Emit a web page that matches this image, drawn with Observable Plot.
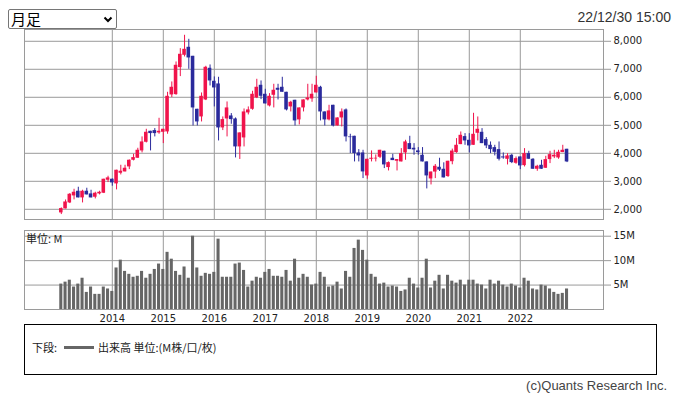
<!DOCTYPE html>
<html><head><meta charset="utf-8">
<script src="https://cdn.jsdelivr.net/npm/d3@7"></script>
<script src="https://cdn.jsdelivr.net/npm/@observablehq/plot@0.6"></script>
<style>
html,body{margin:0;padding:0;background:#fff;}
#wrap{position:relative;width:678px;height:396px;overflow:hidden;font-family:"Liberation Sans",Arial,sans-serif;}
.abs{position:absolute;white-space:nowrap;}
#top,#vol{position:absolute;left:0;}
#top{top:0;} #vol{top:225px;}
#sel{left:8px;top:9px;width:109px;height:20px;box-sizing:border-box;border:1px solid #767676;border-radius:2px;background:#fff;}
#sel span{position:absolute;left:2px;top:0px;font-family:"Noto Sans CJK JP",sans-serif;font-size:15px;line-height:17px;color:#000;}
#legend{left:24px;top:324px;width:633px;height:51px;box-sizing:border-box;border:1px solid #000;}
.jp{font-family:"Noto Sans CJK JP",sans-serif;font-size:11px;color:#222;line-height:14px;}
</style></head>
<body><div id="wrap">
<div id="top"></div>
<div id="vol"></div>
<div id="sel" class="abs"><span>月足</span>
<svg style="position:absolute;left:94px;top:6px" width="10" height="7"><path d="M1.5,1.5 L5,5 L8.5,1.5" fill="none" stroke="#000" stroke-width="2"/></svg></div>
<div class="abs" style="right:7px;top:9px;font-size:14px;color:#333;">22/12/30 15:00</div>
<div class="abs jp" style="left:26px;top:231px;">単位: M</div>
<div id="legend" class="abs"></div>
<div class="abs jp" style="left:32px;top:340px;">下段:</div>
<div class="abs" style="left:64px;top:346px;width:30px;height:3px;background:#666;"></div>
<div class="abs jp" style="left:98px;top:340px;">出来高 単位:(M株/口/枚)</div>
<div class="abs" style="right:11px;top:378px;font-size:13px;color:#444;">(c)Quants Research Inc.</div>
</div>
<script>
// Monthly candles Jan 2013 .. Dec 2022
const startYear = 2013;
const open  = [1871,2014,2228,2478,2645,2407,2645,2550,2431,2550,2574,3038,
 3074,2907,3288,3335,3514,3752,3823,4085,4394,4787,4811,4728,
 4751,4763,6084,6096,7060,7500,7786,7464,5572,5299,5905,7036,
 6572,6477,4906,5227,5334,5227,4228,4549,5442,5572,5977,6429,
 6108,5691,6072,6322,6358,6179,5656,5894,5192,5620,5906,5941,
 6155,6358,5477,5192,5715,4977,5263,5549,4584,4608,4013,4013,
 3192,3787,3799,3858,4073,3490,3823,3716,3692,4013,4346,4180,
 4085,3930,3692,3085,3330,3501,3430,3170,3700,4025,4310,4596,
 4465,4286,4715,4750,4489,4286,4203,4132,3870,3787,3929,3644,
 3870,3560,3989,3787,3430,3572,3465,3775,3870,3834,4025,4144];
const high  = [2050,2333,2562,2716,2788,2681,2752,2681,2610,2645,3074,3181,
 3086,3395,3573,3573,3764,3966,4180,4585,4858,4787,4882,5251,
 4858,6179,6548,7262,7738,8214,8071,7464,5572,6155,7107,7155,
 6727,6715,5299,5834,5418,5263,4728,5584,5656,6215,6643,6584,
 6286,6131,6465,6465,6715,6179,5858,5894,5620,5906,6465,6465,
 6750,6393,5477,5715,5715,5263,5584,5584,4680,4608,4132,4108,
 3787,4085,3942,4108,4073,3692,3966,3775,4168,4465,4608,4346,
 4204,4204,3692,3335,3600,3823,3660,3716,4150,4525,4762,4703,
 4703,5429,5298,4881,4560,4405,4286,4405,4013,3989,3965,3870,
 3870,4167,4072,3810,3572,3751,3894,4072,4108,4108,4286,4144];
const low   = [1812,2014,2205,2336,2407,2228,2514,2407,2371,2514,2562,2955,
 2824,2693,3228,3335,3418,3728,3823,4014,4370,4085,4585,4680,
 4347,4680,5989,6072,6739,7441,7000,4977,4977,5120,5882,6405,
 5656,4442,4811,4585,5037,3835,3780,4228,5370,5537,5953,5917,
 5763,5656,5620,5905,6179,5513,5477,4977,5013,5477,5870,5822,
 6155,5156,4977,5156,4942,4977,4942,4406,3990,3692,3692,3097,
 3073,3692,3692,3811,3454,3370,3740,3370,3692,3751,4132,3930,
 3930,3692,2728,2870,3097,3350,3121,3140,3590,4000,4310,4286,
 4013,4286,4441,4346,4167,3989,3906,3727,3787,3584,3632,3608,
 3417,3513,3787,3430,3358,3430,3465,3632,3810,3787,4025,3668];
const close = [2026,2262,2538,2609,2407,2645,2514,2407,2574,2609,3074,3122,
 2943,3395,3359,3466,3752,3847,4109,4406,4751,4704,4704,4787,
 4858,6036,6358,7143,7536,7714,7405,5620,5120,6036,7072,6584,
 6334,4906,5204,5620,5203,4228,4728,5477,5549,6108,6358,6036,
 5763,6036,6251,6251,6179,5549,5822,5156,5620,5906,5977,6108,
 6429,5477,5192,5513,4977,5263,5477,4585,4560,3990,3906,3335,
 3787,3823,3823,4108,3585,3668,3740,3775,3990,4406,4132,4120,
 4025,3692,3192,3330,3537,3400,3121,3716,4080,4287,4643,4441,
 4263,4679,4858,4346,4263,4132,4036,3787,3834,3906,3668,3810,
 3549,3989,3787,3430,3537,3430,3775,3953,3930,4036,4108,3692];
// Volume, millions of shares
const volume = [5.2,5.6,6.0,4.6,5.2,6.4,3.5,4.6,3.1,3.1,4.6,4.2,
 3.7,8.5,10.1,7.8,7.2,6.6,6.8,7.8,6.4,7.2,8.2,9.3,
 8.2,11.7,10.3,7.8,7.0,8.7,6.4,15.0,8.5,6.8,7.4,7.2,
 7.6,14.4,6.6,6.6,6.6,9.3,9.5,8.0,4.6,5.8,6.6,6.4,
 7.6,8.2,6.8,6.8,6.6,8.0,5.8,10.3,6.4,7.2,6.6,5.0,
 5.2,7.6,6.6,4.6,4.8,5.6,4.2,7.8,6.6,12.5,14.2,12.1,
 10.1,7.2,6.6,5.2,5.4,4.6,4.8,4.6,3.7,4.0,6.4,5.2,
 4.4,6.4,10.3,4.4,5.8,7.0,4.2,7.0,5.8,5.4,6.0,5.0,
 6.0,6.0,5.2,5.0,4.2,6.0,5.2,5.8,5.0,4.6,5.2,4.8,
 4.4,6.4,5.8,4.2,4.0,5.0,4.8,4.2,3.5,3.1,3.3,4.2];
const yearLabels = ["2014","2015","2016","2017","2018","2019","2020","2021","2022"];
const priceTicks = [2000,3000,4000,5000,6000,7000,8000];
const volTicks = [5,10,15];

const UP = "#f0134b", DOWN = "#2a2a9c", GRID = "#9a9a9a", VOLC = "#666666";
const data = open.map((o, i) => ({i, o, h: high[i], l: low[i], c: close[i], v: volume[i]}));
const ups = data.filter(d => d.c >= d.o), downs = data.filter(d => d.c < d.o);
const yearIdx = yearLabels.map(y => (+y - startYear) * 12);
const xDomain = [-8.66, 127.58];
const style = {fontFamily: "DejaVu Sans", fontSize: "10px", color: "#222", background: "transparent"};
const hw = 0.42;

const topPlot = Plot.plot({
  width: 678, height: 222,
  marginLeft: 24, marginRight: 75, marginTop: 29, marginBottom: 3,
  x: {type: "linear", domain: xDomain, axis: null},
  y: {domain: [1636, 8421], axis: null},
  style,
  marks: [
    Plot.gridX(yearIdx, {stroke: GRID, strokeOpacity: 1}),
    Plot.gridY(priceTicks, {stroke: GRID, strokeOpacity: 1}),
    Plot.axisY(priceTicks, {anchor: "right", label: null, tickSize: 7, tickPadding: 3, tickFormat: d3.format(","), stroke: GRID, fill: "#222"}),
    Plot.frame({stroke: GRID}),
    Plot.ruleX(ups, {x: "i", y1: "l", y2: "h", stroke: UP}),
    Plot.ruleX(downs, {x: "i", y1: "l", y2: "h", stroke: DOWN}),
    Plot.rect(ups, {x1: d => d.i - hw, x2: d => d.i + hw, y1: "o", y2: "c", fill: UP}),
    Plot.rect(downs, {x1: d => d.i - hw, x2: d => d.i + hw, y1: "o", y2: "c", fill: DOWN})
  ]
});
document.getElementById("top").append(topPlot);

const volPlot = Plot.plot({
  width: 678, height: 100,
  marginLeft: 24, marginRight: 75, marginTop: 5, marginBottom: 16,
  x: {type: "linear", domain: xDomain, axis: null},
  y: {domain: [0, 16.17], axis: null},
  style,
  marks: [
    Plot.gridX(yearIdx, {stroke: GRID, strokeOpacity: 1}),
    Plot.gridY(volTicks, {stroke: GRID, strokeOpacity: 1}),
    Plot.rect(data, {x1: d => d.i - 0.36, x2: d => d.i + 0.36, y1: 0, y2: "v", fill: VOLC}),
    Plot.frame({stroke: GRID}),
    Plot.axisY(volTicks, {anchor: "right", label: null, tickSize: 7, tickPadding: 3, tickFormat: d => d + "M", stroke: GRID, fill: "#222"}),
    Plot.axisX(yearIdx, {anchor: "bottom", label: null, tickSize: 0, tickPadding: 5, tickFormat: d => yearLabels[yearIdx.indexOf(d)], fill: "#222"})
  ]
});
document.getElementById("vol").append(volPlot);
</script>
</body></html>
